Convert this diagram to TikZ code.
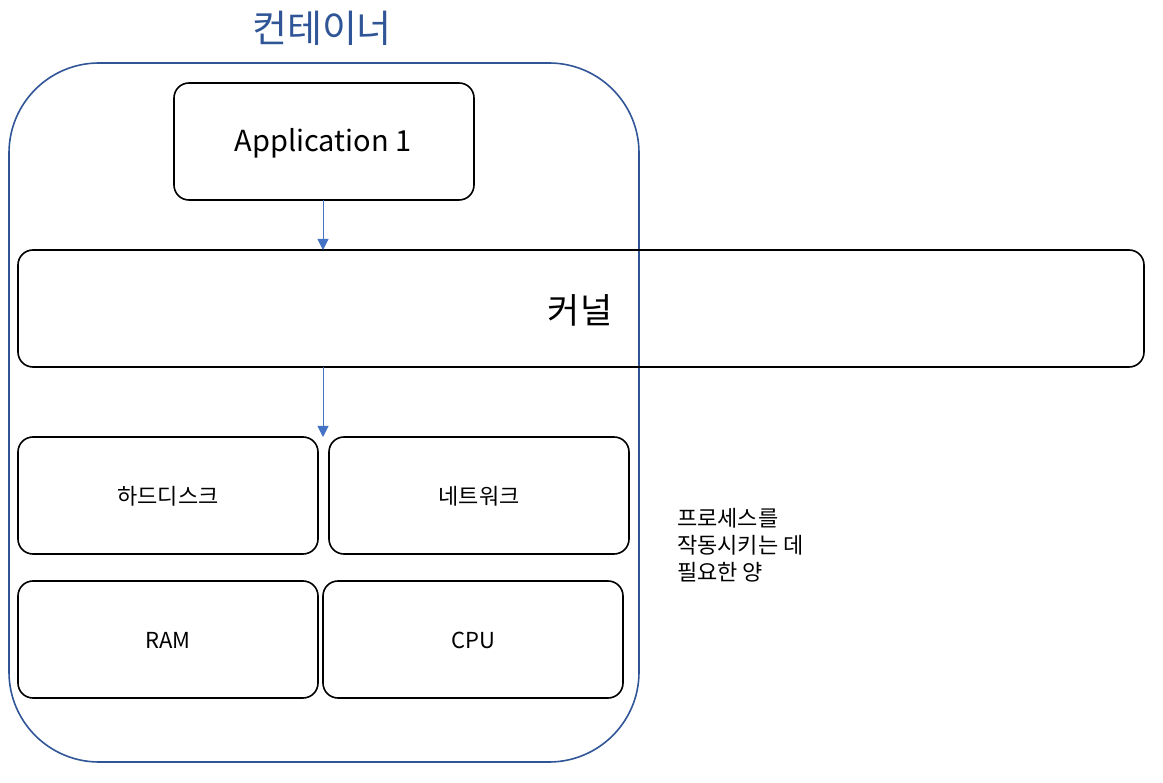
\documentclass[tikz,border=0pt]{standalone}
\usepackage{fontspec}
\setmainfont{Noto Sans CJK KR}
\usetikzlibrary{arrows.meta}
\definecolor{cblue}{HTML}{2F5597}
\definecolor{ablue}{HTML}{4472C4}
\tikzset{
  box/.style={draw=black, line width=1.6pt, rounded corners=15pt, inner sep=0pt},
  flow/.style={draw=ablue, line width=1pt, -{Triangle[length=11pt,width=11pt]}},
  small/.style={font=\fontsize{22}{27}\selectfont}
}
\begin{document}
\begin{tikzpicture}[x=1pt,y=-1pt]
\useasboundingbox (0,0) rectangle (1163,783);
% container
\draw[cblue, line width=1.6pt, rounded corners=90pt] (9,63) rectangle (639,762);
\node[text=cblue, font=\fontsize{38}{42}\selectfont] (title) at (322,28) {컨테이너};
% application
\draw[box] (174,83) rectangle (474,200);
\node[font=\fontsize{29}{34}\selectfont] (app) at (323,143) {Application 1};
\coordinate (appb) at (323,200);
% kernel
\draw[box] (18,250) rectangle (1144,367);
\node[font=\fontsize{35}{40}\selectfont] (kernel) at (580,310) {커널};
\coordinate (kert) at (323,250);
\coordinate (kerb) at (323,367);
% resources
\draw[box] (18,437) rectangle (318,554);
\node[small] (hdd) at (168,496) {하드디스크};
\draw[box] (329,437) rectangle (629,554);
\node[small] (net) at (479,496) {네트워크};
\draw[box] (18,581) rectangle (318,698);
\node[small] (ram) at (168,640) {RAM};
\draw[box] (323,581) rectangle (623,698);
\node[small] (cpu) at (473,640) {CPU};
\coordinate (rest) at (323,437);
% arrows
\draw[flow] (appb) -- (kert);
\draw[flow] (kerb) -- (rest);
% note
\node[small, anchor=north west, align=left, inner sep=0pt] (note) at (677,508) {프로세스를\\작동시키는 데\\필요한 양};
\end{tikzpicture}
\end{document}
